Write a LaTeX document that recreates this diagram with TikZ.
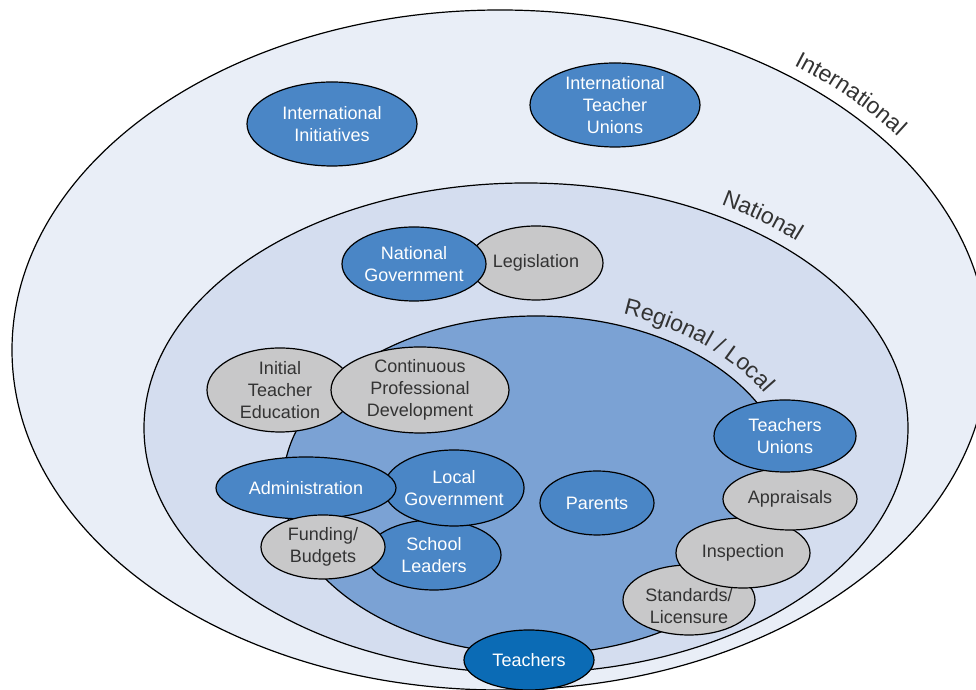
\documentclass[tikz,border=0pt]{standalone}
\usepackage{fontspec}
\setmainfont{Liberation Sans}
\usetikzlibrary{shapes.geometric,decorations.text}

\definecolor{outerband}{HTML}{E9EEF7}
\definecolor{nationband}{HTML}{D4DDEF}
\definecolor{regionband}{HTML}{7BA2D4}
\definecolor{nodeblue}{HTML}{4A86C6}
\definecolor{teachblue}{HTML}{0B6BB5}
\definecolor{nodegrey}{HTML}{C8C8C9}
\definecolor{textgrey}{HTML}{333333}

\begin{document}
\begin{tikzpicture}[x=0.5pt,y=0.5pt,
  ring/.style={draw=black,line width=0.6pt},
  oval/.style={ellipse,draw=black,line width=0.6pt,inner sep=0pt,align=center,
    font=\fontsize{9}{11}\selectfont},
  bluebox/.style={oval,fill=nodeblue,text=white},
  greybox/.style={oval,fill=nodegrey,text=textgrey},
  ringlabel/.style={decorate,decoration={text along path,
    text={|\fontsize{11.5}{13}\selectfont\color{textgrey}|#1}}}]
%
\useasboundingbox (0,0) rectangle (976,690);
\clip (0,0) rectangle (976,690);
%
\draw[ring,fill=outerband] (500,340) ellipse [x radius=488,y radius=340];
\draw[ring,fill=nationband] (526,262) ellipse [x radius=382,y radius=245];
\draw[ring,fill=regionband] (536,205) ellipse [x radius=253,y radius=169];
%
\path[ringlabel=International] (793.9,624.8) arc [start angle=54,end angle=8,x radius=500,y radius=352];
\path[ringlabel=National] (721.2,485.2) arc [start angle=60.3,end angle=15,x radius=394,y radius=257];
\path[ringlabel={Regional / Local}] (623.2,375.9) arc [start angle=70.8,end angle=5,x radius=265,y radius=181];
%
\node[bluebox,minimum width=85pt,minimum height=42pt] (intinit) at (332,566) {International\\Initiatives};
\node[bluebox,minimum width=85pt,minimum height=42pt] (intunions) at (615,585) {International\\Teacher\\Unions};
\node[greybox,minimum width=67pt,minimum height=37pt] (legis) at (536,427) {Legislation};
\node[bluebox,minimum width=72pt,minimum height=37pt] (natgov) at (414,426) {National\\Government};
\node[greybox,minimum width=73pt,minimum height=42pt] (ite) at (280,300) {Initial\\Teacher\\Education};
\node[greybox,minimum width=89pt,minimum height=43pt] (cpd) at (420,300) {Continuous\\Professional\\Development};
\node[bluebox,minimum width=67pt,minimum height=35pt] (leaders) at (434,135) {School\\Leaders};
\node[bluebox,minimum width=68pt,minimum height=38pt] (localgov) at (454,202) {Local\\Government};
\node[bluebox,minimum width=90pt,minimum height=31pt] (admin) at (306,202) {Administration};
\node[greybox,minimum width=62pt,minimum height=32pt] (funding) at (323,143) {Funding/\\Budgets};
\node[bluebox,minimum width=57pt,minimum height=32pt] (parents) at (597,187) {Parents};
\node[greybox,minimum width=66pt,minimum height=35pt] (standards) at (689,90) {\\[2pt]Standards/\\Licensure};
\node[greybox,minimum width=67pt,minimum height=35pt] (inspect) at (743,137) {Inspection};
\node[greybox,minimum width=67pt,minimum height=31pt] (apprais) at (790,191) {Appraisals};
\node[bluebox,minimum width=71pt,minimum height=36pt] (tunions) at (785,254) {Teachers\\Unions};
\node[bluebox,fill=teachblue,minimum width=65pt,minimum height=30pt] (teachers) at (529,30) {Teachers};
\end{tikzpicture}
\end{document}
